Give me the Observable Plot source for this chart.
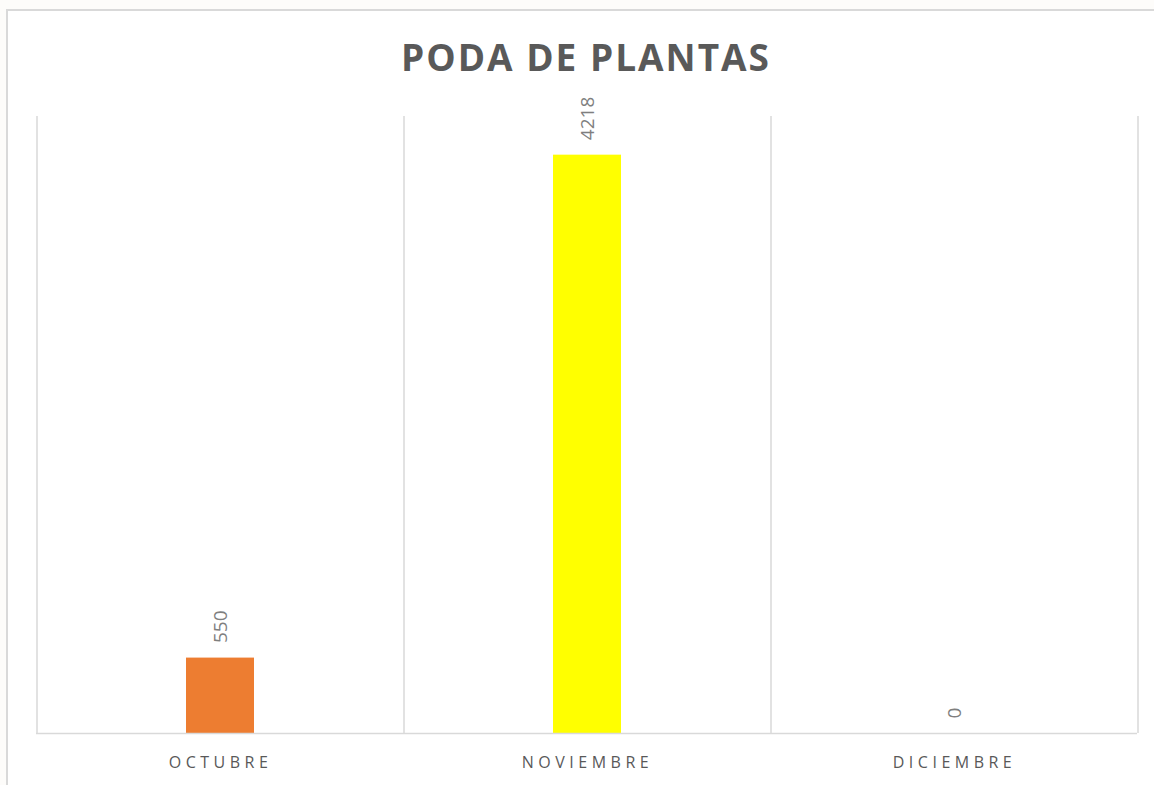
<!DOCTYPE html>
<html>
<head>
<meta charset="utf-8">
<script src="https://cdn.jsdelivr.net/npm/d3@7"></script>
<script src="https://cdn.jsdelivr.net/npm/@observablehq/plot@0.6"></script>
<style>
  html, body { margin: 0; padding: 0; background: #fdfcfa; width: 1154px; height: 785px; overflow: hidden; }
  #frame { position: absolute; left: 6px; top: 9px; width: 1200px; height: 800px; background: #ffffff;
           border-top: 2px solid #d9d9d9; border-left: 2px solid #d9d9d9; }
  #title { position: absolute; left: 0; top: 38px; width: 1172px; text-align: center;
           font-family: "Open Sans", sans-serif; font-weight: 700; font-size: 37px; line-height: 37px;
           letter-spacing: 2px; color: #595959; }
  #chart { position: absolute; left: 0; top: 0; }
  #chart g[aria-label="x-axis tick label"] text { letter-spacing: 4.5px; }
</style>
</head>
<body>
<div id="frame"></div>
<div id="chart"></div>
<div id="title">PODA DE PLANTAS</div>
<script>
const months = ["OCTUBRE", "NOVIEMBRE", "DICIEMBRE"];
const values = [550, 4218, 0];
const colors = ["#ed7d31", "#ffff00", "#a5a5a5"];

const data = months.map((m, i) => ({month: m, value: values[i], color: colors[i]}));

const W = 1154, H = 785;
const mL = 36, mR = 17, mT = 116, mB = 52;
const step = (W - mL - mR) / months.length;

const chart = Plot.plot({
  width: W,
  height: H,
  marginLeft: mL,
  marginRight: mR,
  marginTop: mT,
  marginBottom: mB,
  style: {background: "transparent", fontFamily: "Open Sans, sans-serif"},
  x: {domain: months, paddingInner: 0.815, paddingOuter: 0.4075, label: null},
  y: {domain: [0, 4500], axis: null},
  marks: [
    Plot.ruleX(months, {x: d => d, dx: -step / 2, stroke: "#d9d9d9", strokeWidth: 1.5}),
    Plot.ruleX(months.slice(-1), {x: d => d, dx: step / 2, stroke: "#d9d9d9", strokeWidth: 1.5}),
    Plot.barY(data, {x: "month", y: "value", fill: d => d.color}),
    Plot.ruleY([0], {stroke: "#d9d9d9", strokeWidth: 1.5}),
    Plot.text(data, {x: "month", y: "value", text: d => String(d.value), rotate: -90,
      textAnchor: "start", dy: -15, fontSize: 19, fill: "#7f7f7f"}),
    Plot.axisX({tickSize: 0, tickPadding: 23, fontSize: 16, fill: "#595959", label: null})
  ]
});
document.getElementById("chart").appendChild(chart);
</script>
</body>
</html>
